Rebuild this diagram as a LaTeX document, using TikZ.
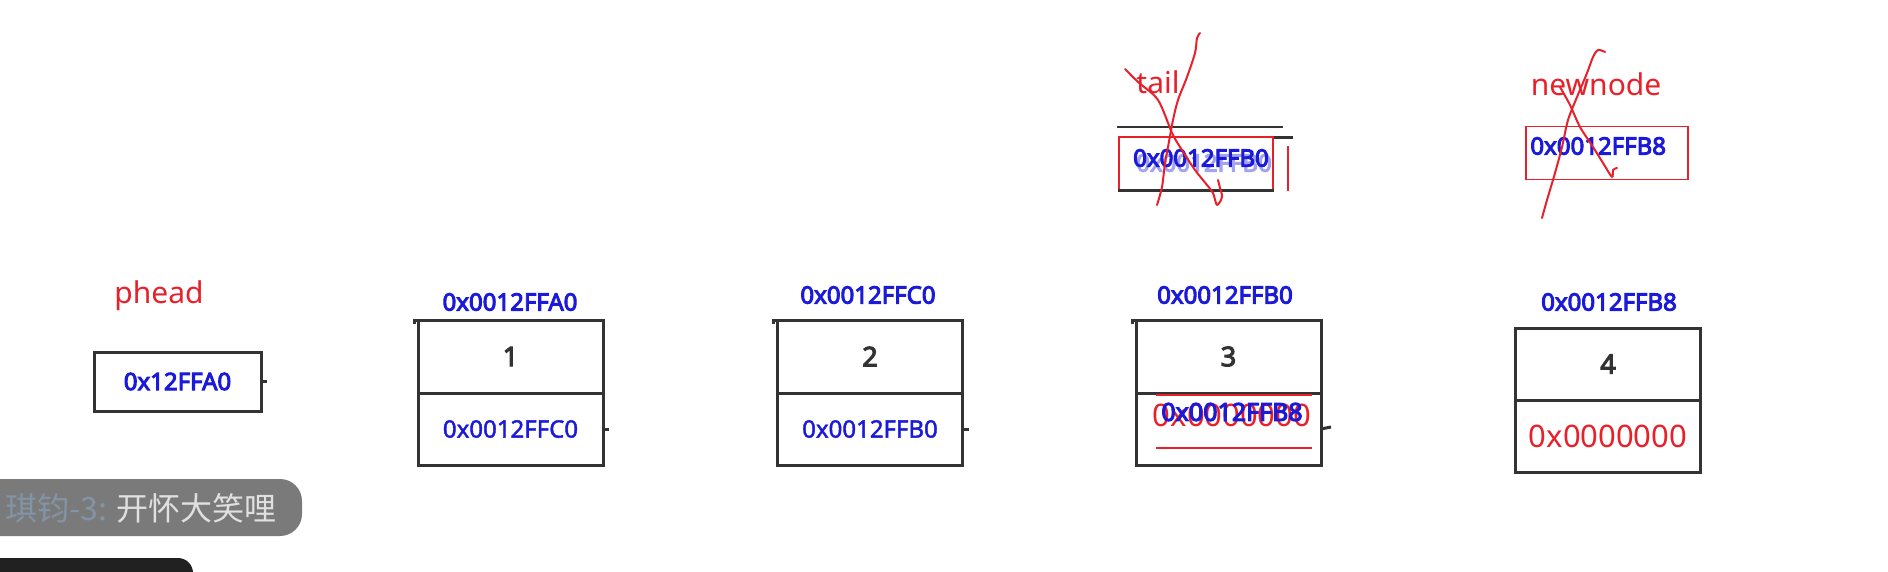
\documentclass[tikz,border=0pt]{standalone}
\usepackage{fontspec}
\setmainfont{Noto Sans}
\newfontfamily\nsbold{Noto Sans}[FakeBold=4]
\newfontfamily\nsmed{Noto Sans}[FakeBold=1.8]
\newfontfamily\cjk{Noto Sans CJK SC}
\definecolor{boxc}{HTML}{333333}
\definecolor{lblue}{HTML}{1A1AD8}
\definecolor{lred}{HTML}{E8202A}
\definecolor{bubble}{HTML}{7A7A7A}
\definecolor{nick}{HTML}{8294A6}
\begin{document}
\begin{tikzpicture}[x=0.5pt,y=-0.5pt,
  cellbox/.style={draw=boxc, line width=1.5pt, minimum width=92.5pt, inner sep=0pt, outer sep=0pt},
  numtxt/.style={font=\nsbold\fontsize{13.5}{15}\selectfont, text=boxc},
  ptrtxt/.style={font=\nsmed\fontsize{12}{14}\selectfont, text=lblue},
  labtxt/.style={font=\nsbold\fontsize{12}{14}\selectfont, text=lblue, inner sep=0pt},
  nametxt/.style={font=\fontsize{15}{17}\selectfont, text=lred, inner sep=0pt},
  nulltxt/.style={font=\fontsize{15.5}{17}\selectfont, text=lred, inner sep=0pt},
  tickline/.style={draw=boxc, line width=1.5pt},
  scrib/.style={draw=lred, line width=1pt, line cap=round, line join=round},
  redline/.style={draw=lred, line width=0.8pt}
]
\useasboundingbox (0,0) rectangle (1888,572);

% phead
\node[nametxt] (pheadname) at (159,296) {phead};
\node[draw=boxc, line width=1.5pt, minimum width=83.5pt, minimum height=29.5pt, inner sep=0pt,
      font=\nsbold\fontsize{12}{14}\selectfont, text=lblue] (phead) at (177.5,381.5) {0x12FFA0};
\draw[tickline] (phead.east) -- ++(4,0);

% node 1
\node[cellbox, minimum height=36.5pt, numtxt] (n1t) at (510.5,356.5) {1};
\node[cellbox, minimum height=36pt, anchor=north, ptrtxt] (n1b) at (n1t.south) {0x0012FFC0};
\node[labtxt] (n1l) at (510,302) {0x0012FFA0};
\draw[tickline] (n1t.north west) -- ++(-4,0) -- ++(0,4);
\draw[tickline] (n1b.east) -- ++(6,0);

% node 2
\node[cellbox, minimum height=36.5pt, numtxt] (n2t) at (870,356.5) {2};
\node[cellbox, minimum height=36pt, anchor=north, ptrtxt] (n2b) at (n2t.south) {0x0012FFB0};
\node[labtxt] (n2l) at (868,295) {0x0012FFC0};
\draw[tickline] (n2t.north west) -- ++(-4,0) -- ++(0,4);
\draw[tickline] (n2b.east) -- ++(6,0);

% node 3
\node[cellbox, minimum height=36.5pt, numtxt] (n3t) at (1228.5,356.5) {3};
\node[cellbox, minimum height=36pt, anchor=north] (n3b) at (n3t.south) {};
\node[labtxt] (n3l) at (1225,295) {0x0012FFB0};
\node[nulltxt] (n3null) at (1232,415) {0x0000000};
\node[labtxt, font=\nsbold\fontsize{12.5}{15}\selectfont] (n3ptr) at (1232,412) {0x0012FFB8};
\draw[redline] (1156,395) -- (1312,395);
\draw[redline] (1156,448) -- (1312,448);
\draw[tickline] (n3t.north west) -- ++(-4,0) -- ++(0,4);
\draw[tickline] (n3b.east) -- ++(10,-2);

% node 4
\node[cellbox, minimum height=36pt, numtxt] (n4t) at (1608,364) {4};
\node[cellbox, minimum height=36pt, anchor=north] (n4b) at (n4t.south) {};
\node[nulltxt] (n4null) at (n4b.center) {0x0000000};
\node[labtxt] (n4l) at (1609,302) {0x0012FFB8};

% tail
\node[nametxt] (tailname) at (1158,82) {tail};
\draw[boxc, line width=1pt] (1117,127) -- (1283,127);
\node[draw=lred, line width=0.8pt, minimum width=77pt, minimum height=26.5pt, inner sep=0pt] (tailbox) at (1196,163.5) {};
\draw[boxc, line width=1.5pt] (tailbox.south west) -- (tailbox.south east);
\draw[boxc, line width=1.5pt] (tailbox.north east) ++(0,1) -- ++(19,0);
\draw[redline] (1288,146) -- (1288,191);
\node[labtxt, text=lblue!40] (tailghost) at (1204,163) {0x0012FFB0};
\node[labtxt] (tailptr) at (1201,158) {0x0012FFB0};
\draw[scrib] plot[smooth, tension=0.5] coordinates {(1125,69) (1138,82) (1158,100) (1172,133) (1180,147) (1195,170) (1207,185) (1213,193) (1217,205) (1222,197) (1220,188) (1218,180)};
\draw[scrib] plot[smooth, tension=0.5] coordinates {(1200,33) (1197,38) (1195,53) (1187,77) (1178,100) (1173,120) (1168,147) (1165,163) (1162,187) (1157,205)};

% newnode
\node[nametxt] (newname) at (1596,84) {newnode};
\node[draw=lred, line width=0.8pt, minimum width=81pt, minimum height=26.5pt, inner sep=0pt] (newbox) at (1607,153) {};
\node[labtxt, anchor=west] (newptr) at (1530,146) {0x0012FFB8};
\draw[scrib] plot[smooth, tension=0.5] coordinates {(1605,52) (1598,50) (1593,57) (1587,73) (1577,97) (1568,120) (1562,147) (1555,173) (1547,200) (1542,218)};
\draw[scrib] plot[smooth, tension=0.5] coordinates {(1560,87) (1570,105) (1580,127) (1593,147) (1603,163) (1612,177) (1613,170) (1617,168)};

% chat overlay
\fill[bubble, rounded corners=11pt] (-40,479) rectangle (302,536);
\node[anchor=west, inner sep=0pt, font=\cjk\fontsize{16}{18}\selectfont] (chat) at (5,508) {\textcolor{nick}{琪钧-3:} \textcolor{white!88!black}{开怀大笑哩}};
\fill[black!87, rounded corners=7.5pt] (-40,558) rectangle (193,610);
\end{tikzpicture}
\end{document}
